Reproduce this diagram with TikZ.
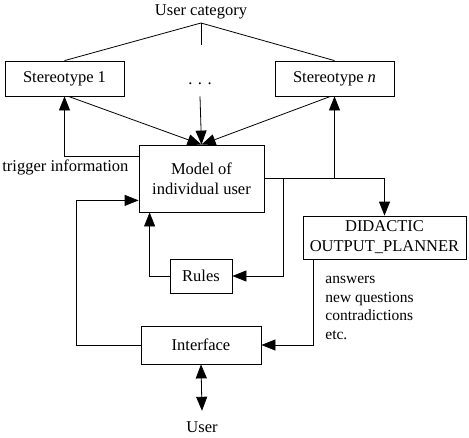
\documentclass[tikz,border=0pt]{standalone}
\usepackage{fontspec}
\setmainfont{Liberation Serif}
\usetikzlibrary{arrows.meta,calc}
\newcommand\mainfs{\fontsize{16.5}{20}\selectfont}
\newcommand\notefs{\fontsize{15.5}{18.5}\selectfont}
\begin{document}
\begin{tikzpicture}[x=1pt,y=-1pt,
  line width=0.8pt,
  box/.style={draw,line width=0.8pt,inner sep=0pt,align=center,font=\mainfs},
  lbl/.style={inner sep=0pt,font=\mainfs},
  arr/.style={-{Triangle[length=14pt,width=11pt]}},
  darr/.style={{Triangle[length=14pt,width=11pt]}-{Triangle[length=14pt,width=11pt]}}]
\useasboundingbox (0,0) rectangle (469,437);
% nodes
\node[lbl,anchor=base] (cat) at (201,15) {User category};
\coordinate (apex) at (201,23);
\coordinate (stub) at (201,45);
\node[box,minimum width=119pt,minimum height=35pt] (s1) at (64.5,78.5) {Stereotype 1};
\node[lbl,minimum height=35pt,text height=11pt,text depth=0pt] (dots) at (200,78.5) {.\,\,.\,\,.};
\node[box,minimum width=119pt,minimum height=35pt] (sn) at (334.5,78.5) {Stereotype \textit{n}};
\node[box,minimum width=125pt,minimum height=67pt] (model) at (201.5,178.5) {Model of\\individual user};
\node[lbl,anchor=base west] (trig) at (2,171) {trigger information};
\node[box,minimum width=163pt,minimum height=43pt] (did) at (384.5,237.5) {DIDACTIC\\OUTPUT\_PLANNER};
\node[box,minimum width=62pt,minimum height=34pt] (rules) at (201,276) {Rules};
\node[box,minimum width=120pt,minimum height=38pt] (iface) at (201,345) {Interface};
\node[inner sep=0pt,font=\notefs,align=left,anchor=base west] (note) at (325,339) {answers\\new questions\\contradictions\\etc.};
\node[lbl,anchor=base] (user) at (202,432) {User};
\coordinate (jr) at (283,178.5);
% user category tree
\draw (apex) -- (s1.north);
\draw (apex) -- (sn.north);
\draw (apex) -- (stub);
% stereotypes to model
\draw[arr] ([xshift=4pt]s1.south) -- (model.north);
\draw[arr] (dots.south) -- (model.north);
\draw[arr] ([xshift=-4pt]sn.south) -- (model.north);
% trigger information
\draw[arr] ([yshift=-12pt]model.north west) -| (s1.south);
% model outputs
\draw[arr] (model.east) -| (did.north);
\draw[arr] (model.east -| sn.south) -- (sn.south);
\draw[arr] (jr) |- (rules.east);
% rules to model
\draw[arr] (rules.west) -| ([xshift=11pt]model.south west);
% interface to model
\draw[arr] (iface.west) -- ++(-64,0) |- ([yshift=12pt]model.south west);
% planner to interface
\draw[arr] ([xshift=11pt]did.south west) |- (iface.east);
% interface to user
\draw[darr] (iface.south) -- ([yshift=10pt]user.north);
\end{tikzpicture}
\end{document}
